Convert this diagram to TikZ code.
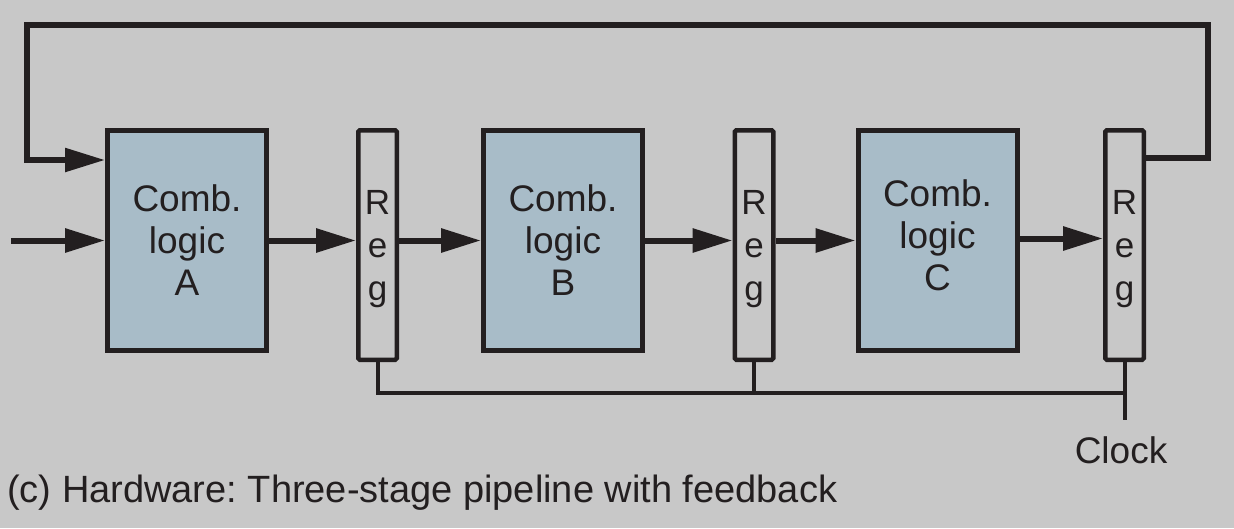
\documentclass[tikz,border=0pt]{standalone}
\usepackage{fontspec}
\setmainfont{Liberation Sans}
\usetikzlibrary{arrows.meta}
\definecolor{bgc}{RGB}{200,200,200}
\definecolor{boxc}{RGB}{168,188,200}
\definecolor{ink}{RGB}{35,31,32}
\frenchspacing
\tikzset{
  logicbox/.style={draw=ink, fill=boxc, line width=5pt, minimum width=159pt, minimum height=220pt, inner sep=0pt},
  regbox/.style={draw=ink, fill=bgc, line width=4.5pt, rounded corners=1.5pt, minimum width=38.5pt, minimum height=229.5pt, inner sep=0pt},
  boxtext/.style={align=center, inner sep=0pt, text=ink, font=\fontsize{37}{42}\selectfont},
  regtext/.style={align=center, inner sep=0pt, text=ink, font=\fontsize{35}{43}\selectfont},
  arr/.style={draw=ink, line width=6pt, -{Triangle[length=40pt,width=23pt]}},
  fbarr/.style={draw=ink, line width=5.5pt, -{Triangle[length=40pt,width=23pt]}},
  bus/.style={draw=ink, line width=4pt},
  lbl/.style={inner sep=0pt, text=ink, font=\fontsize{37}{42}\selectfont},
  caplbl/.style={inner sep=0pt, text=ink, font=\fontsize{38}{42}\selectfont}
}
\begin{document}
\begin{tikzpicture}[x=1pt,y=-1pt]
\fill[bgc] (0,0) rectangle (1234,528);
\useasboundingbox (0,0) rectangle (1234,528);
% logic boxes
\node[logicbox] (A) at (187,240.5) {};
\node[logicbox] (B) at (563,240.5) {};
\node[logicbox] (C) at (937.5,240.5) {};
\node[boxtext] (tA) at (187,240) {Comb.\\logic\\A};
\node[boxtext] (tB) at (563,240) {Comb.\\logic\\B};
\node[boxtext] (tC) at (937.5,235) {Comb.\\logic\\C};
% registers
\node[regbox] (R1) at (377.5,245) {};
\node[regbox] (R2) at (754,245) {};
\node[regbox] (R3) at (1124.5,245) {};
\node[regtext] (tR1) at (377.5,249.5) {R\\e\\g};
\node[regtext] (tR2) at (754,249.5) {R\\e\\g};
\node[regtext] (tR3) at (1124.5,249.5) {R\\e\\g};
% data path
\coordinate (in) at (11,240.5);
\draw[arr] (in) -- (A.west);
\draw[arr] (A.east) -- (A.east -| R1.west);
\draw[arr] (A.east -| R1.east) -- (B.west);
\draw[arr] (B.east) -- (B.east -| R2.west);
\draw[arr] (B.east -| R2.east) -- (C.west);
\draw[arr] ([yshift=2pt]C.east) -- ([yshift=2pt]C.east -| R3.west);
% feedback
\coordinate (fbR) at (1208,25);
\coordinate (fbL) at (27,25);
\draw[fbarr] ([yshift=87pt]R3.east) -| (fbR) -- (fbL) |- ([yshift=80.5pt]A.west);
% clock
\coordinate (bj) at (1124.5,393);
\coordinate (clk) at (1124.5,420);
\draw[bus] (R1.south) |- (bj);
\draw[bus] (R2.south) -- (R2.south |- bj);
\draw[bus] (R3.south) -- (clk);
\node[lbl, anchor=base] (clock) at (1121,463) {Clock};
% caption
\node[caplbl, anchor=base west] (cap) at (7,502) {(c) Hardware: Three-stage pipeline with feedback};
\end{tikzpicture}
\end{document}
